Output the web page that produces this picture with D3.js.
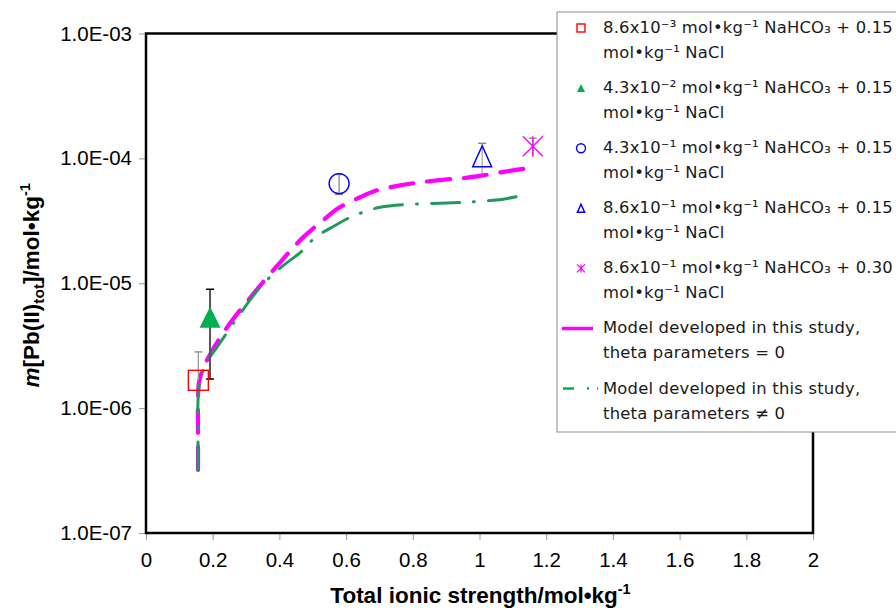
<!DOCTYPE html>
<html>
<head>
<meta charset="utf-8">
<script src="https://cdn.jsdelivr.net/npm/d3@7"></script>
<style>
  html, body { margin: 0; padding: 0; background: #fff; }
  svg { display: block; }
</style>
</head>
<body>
<svg id="chart" width="896" height="610"></svg>
<script>
// Measured Pb(II) solubility points
const pointLabels = [
  ["8.6x10⁻³ mol•kg⁻¹ NaHCO₃ + 0.15", "mol•kg⁻¹ NaCl"],
  ["4.3x10⁻² mol•kg⁻¹ NaHCO₃ + 0.15", "mol•kg⁻¹ NaCl"],
  ["4.3x10⁻¹ mol•kg⁻¹ NaHCO₃ + 0.15", "mol•kg⁻¹ NaCl"],
  ["8.6x10⁻¹ mol•kg⁻¹ NaHCO₃ + 0.15", "mol•kg⁻¹ NaCl"],
  ["8.6x10⁻¹ mol•kg⁻¹ NaHCO₃ + 0.30", "mol•kg⁻¹ NaCl"]
];
const pointX    = [0.157, 0.192, 0.579, 1.008, 1.16];
const pointY    = [1.67e-6, 5.35e-6, 6.28e-5, 1.04e-4, 1.25e-4];
const errHigh   = [2.82e-6, 8.95e-6, 7.45e-5, 1.32e-4, 1.45e-4];
const errLow    = [1.67e-6, 1.71e-6, 5.15e-5, 7.6e-5, 1.02e-4];

// Model curves
const modelLabels = [
  ["Model developed in this study,", "theta parameters = 0"],
  ["Model developed in this study,", "theta parameters ≠ 0"]
];
const model1X = [0.156, 0.156, 0.156, 0.160, 0.183, 0.237, 0.319, 0.407, 0.471, 0.531, 0.576,
                 0.642, 0.693, 0.762, 0.822, 0.903, 0.951, 1.010, 1.082, 1.160];
const model1Y = [3.2e-7, 6.7e-7, 1.22e-6, 1.67e-6, 2.42e-6, 4.2e-6, 8.05e-6, 1.52e-5, 2.33e-5, 3.19e-5, 3.98e-5,
                 4.88e-5, 5.55e-5, 6.08e-5, 6.43e-5, 6.79e-5, 6.95e-5, 7.31e-5, 7.87e-5, 8.47e-5];
const model2X = [0.156, 0.156, 0.156, 0.162, 0.185, 0.213, 0.273, 0.342, 0.402, 0.471, 0.507,
                 0.552, 0.612, 0.651, 0.702, 0.792, 0.882, 0.960, 1.001, 1.040, 1.071, 1.130];
const model2Y = [3.2e-7, 6.7e-7, 1.16e-6, 1.67e-6, 2.4e-6, 3.08e-6, 5.25e-6, 9.29e-6, 1.32e-5, 1.84e-5, 2.33e-5,
                 2.75e-5, 3.37e-5, 3.70e-5, 4.06e-5, 4.29e-5, 4.37e-5, 4.45e-5, 4.53e-5, 4.62e-5, 4.71e-5, 5.06e-5];

// Axis ticks
const xTicks = [0, 0.2, 0.4, 0.6, 0.8, 1, 1.2, 1.4, 1.6, 1.8, 2];
const yTicks = [1e-7, 1e-6, 1e-5, 1e-4, 1e-3];
const yTickLabels = ["1.0E-07", "1.0E-06", "1.0E-05", "1.0E-04", "1.0E-03"];

const svg = d3.select("#chart");
const plot = { left: 146, right: 813, top: 33.5, bottom: 533 };

const x = d3.scaleLinear().domain([0, 2]).range([plot.left, plot.right]);
const y = d3.scaleLog().domain([1e-7, 1e-3]).range([plot.bottom, plot.top]);

const axisFont = "'Liberation Sans', Arial, sans-serif";
const legendFont = "'DejaVu Sans', 'Noto Sans', sans-serif";

// Axes (ticks outside, grey)
const xAxis = svg.append("g")
  .attr("transform", `translate(0,${plot.bottom})`)
  .call(d3.axisBottom(x).tickValues(xTicks).tickSize(7).tickPadding(12)
    .tickFormat(d => d3.format("~g")(d)));
xAxis.select(".domain").remove();
xAxis.selectAll(".tick line").attr("stroke", "#9a9a9a");
xAxis.selectAll(".tick text")
  .attr("font-family", axisFont).attr("font-size", 20.5).attr("fill", "#000");

const yAxis = svg.append("g")
  .attr("transform", `translate(${plot.left},0)`)
  .call(d3.axisLeft(y).tickValues(yTicks).tickSize(7).tickPadding(7)
    .tickFormat((d, i) => yTickLabels[i]));
yAxis.select(".domain").remove();
yAxis.selectAll(".tick line").attr("stroke", "#9a9a9a");
yAxis.selectAll(".tick text")
  .attr("font-family", axisFont).attr("font-size", 20.5).attr("fill", "#000");

// Plot frame
svg.append("rect")
  .attr("x", plot.left).attr("y", plot.top)
  .attr("width", plot.right - plot.left).attr("height", plot.bottom - plot.top)
  .attr("fill", "none").attr("stroke", "#000").attr("stroke-width", 2.5);

// Model curves
const line = d3.line().x(d => x(d[0])).y(d => y(d[1])).curve(d3.curveCatmullRom.alpha(0.5));
svg.append("path")
  .datum(d3.zip(model1X, model1Y))
  .attr("d", line)
  .attr("fill", "none").attr("stroke", "#ff00ff").attr("stroke-width", 4.2)
  .attr("stroke-linecap", "round").attr("stroke-dasharray", "23 14");
svg.append("path")
  .datum(d3.zip(model2X, model2Y))
  .attr("d", line)
  .attr("fill", "none").attr("stroke", "#22995a").attr("stroke-width", 3)
  .attr("stroke-linecap", "round").attr("stroke-dasharray", "28 14 1 14");

// Error bars
const errG = svg.append("g");
const errColors = ["#999", "#555", "#888", "#aaa", "#999"];
const capColors = ["#999", "#000", "#888", "#888", "#999"];
pointX.forEach((px, i) => {
  const cx = x(px);
  errG.append("line")
    .attr("x1", cx).attr("x2", cx).attr("y1", y(errLow[i])).attr("y2", y(errHigh[i]))
    .attr("stroke", errColors[i]).attr("stroke-width", i === 1 ? 2 : 1.3);
  errG.append("line")
    .attr("x1", cx - 4).attr("x2", cx + 4).attr("y1", y(errHigh[i])).attr("y2", y(errHigh[i]))
    .attr("stroke", capColors[i]).attr("stroke-width", 1.5);
  if (i === 1 || i === 2) {
    errG.append("line")
      .attr("x1", cx - 4).attr("x2", cx + 4).attr("y1", y(errLow[i])).attr("y2", y(errLow[i]))
      .attr("stroke", capColors[i]).attr("stroke-width", 1.5);
  }
});

// Marker drawing
function drawMarker(g, kind, cx, cy, s) {
  const h = s / 2;
  if (kind === 0) {
    g.append("rect").attr("x", cx - h).attr("y", cy - h).attr("width", s).attr("height", s)
      .attr("fill", "none").attr("stroke", "#ff0000").attr("stroke-width", 1.4);
  } else if (kind === 1) {
    g.append("path").attr("d", `M${cx},${cy - h}L${cx + h},${cy + h}L${cx - h},${cy + h}Z`)
      .attr("fill", "#00b050");
  } else if (kind === 2) {
    g.append("circle").attr("cx", cx).attr("cy", cy).attr("r", h)
      .attr("fill", "none").attr("stroke", "#0000ff").attr("stroke-width", 1.4);
  } else if (kind === 3) {
    g.append("path").attr("d", `M${cx},${cy - h}L${cx + h * 0.9},${cy + h}L${cx - h * 0.9},${cy + h}Z`)
      .attr("fill", "none").attr("stroke", "#0000ff").attr("stroke-width", 1.5);
  } else {
    g.append("path")
      .attr("d", `M${cx - h},${cy - h}L${cx + h},${cy + h}M${cx + h},${cy - h}L${cx - h},${cy + h}M${cx},${cy - h}L${cx},${cy + h}`)
      .attr("fill", "none").attr("stroke", "#ff00ff").attr("stroke-width", 1.3);
  }
}

const markG = svg.append("g");
const markerSizes = [20, 21, 20, 21, 20];
pointX.forEach((px, i) => drawMarker(markG, i, x(px), y(pointY[i]), markerSizes[i]));

// Legend
const legend = svg.append("g");
legend.append("rect")
  .attr("x", 557).attr("y", 12).attr("width", 360).attr("height", 420)
  .attr("fill", "#fff").attr("stroke", "#8c8c8c").attr("stroke-width", 1);

const rowStart = 27, rowStep = 60.1, lineGap = 25;
const textX = 603;
function legendText(lines, cy) {
  lines.forEach((t, j) => {
    legend.append("text")
      .attr("x", textX).attr("y", cy + j * lineGap)
      .attr("dy", "0.36em")
      .attr("font-family", legendFont).attr("font-size", 16.4)
      .attr("letter-spacing", 0.2).attr("fill", "#1a1a1a")
      .text(t);
  });
}
pointLabels.forEach((lines, i) => {
  const cy = rowStart + i * rowStep;
  drawMarker(legend, i, 581, cy + 1, i === 2 ? 9 : 8);
  legendText(lines, cy);
});
modelLabels.forEach((lines, i) => {
  const cy = rowStart + (pointLabels.length + i) * rowStep;
  const ln = legend.append("line")
    .attr("x1", i === 0 ? 562 : 563).attr("x2", i === 0 ? 593 : 598)
    .attr("y1", cy + 1).attr("y2", cy + 1);
  if (i === 0) {
    ln.attr("stroke", "#ff00ff").attr("stroke-width", 3.5);
  } else {
    ln.attr("stroke", "#00b050").attr("stroke-width", 2.5).attr("stroke-dasharray", "11 13 2 8 2 8");
  }
  legendText(lines, cy);
});

// Axis titles
svg.append("text")
  .attr("x", (plot.left + plot.right) / 2 + 1).attr("y", 603)
  .attr("text-anchor", "middle")
  .attr("font-family", axisFont).attr("font-size", 22.5).attr("font-weight", "bold")
  .text("Total ionic strength/mol•kg")
  .append("tspan").attr("dy", -9).attr("font-size", 14.5).text("-1");

const yTitle = svg.append("text")
  .attr("transform", `translate(39,${(plot.top + plot.bottom) / 2 + 2}) rotate(-90)`)
  .attr("text-anchor", "middle")
  .attr("font-family", axisFont).attr("font-size", 22.5).attr("font-weight", "bold");
yTitle.append("tspan").attr("font-style", "italic").text("m");
yTitle.append("tspan").text("[Pb(II)");
yTitle.append("tspan").attr("dy", 5).attr("font-size", 15.5).text("tot");
yTitle.append("tspan").attr("dy", -5).text("]/mol•kg");
yTitle.append("tspan").attr("dy", -9).attr("font-size", 14.5).text("-1");
</script>
</body>
</html>
